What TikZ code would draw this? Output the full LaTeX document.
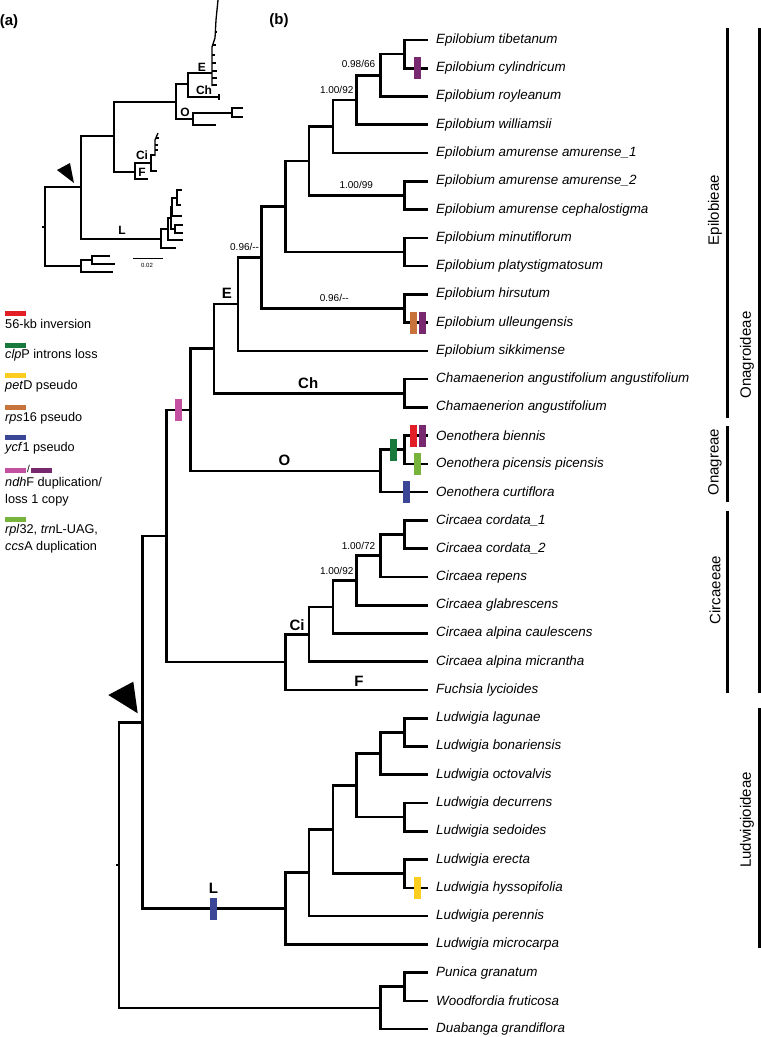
\documentclass[tikz,border=0pt]{standalone}
\usepackage{fontspec}
\setmainfont{Liberation Sans}
\usetikzlibrary{calc}

\definecolor{cred}{RGB}{228,30,38}
\definecolor{cdgreen}{RGB}{25,120,60}
\definecolor{cyellow}{RGB}{250,205,30}
\definecolor{corange}{RGB}{200,115,60}
\definecolor{cblue}{RGB}{60,70,150}
\definecolor{cpink}{RGB}{195,80,160}
\definecolor{cpurple}{RGB}{120,40,110}
\definecolor{clgreen}{RGB}{120,180,60}

\tikzset{
x=1pt, y=-1pt, % one unit is one pixel, y grows downwards
branch/.style={line width=2.6pt}, % the branches of tree (b)
thinbranch/.style={line width=1.3pt}, % the branches of tree (a)
taxon/.style={anchor=west, inner xsep=8pt, inner ysep=0pt, font=\fontsize{13.4}{15}\selectfont\itshape},
support/.style={inner sep=0pt, font=\fontsize{10}{10}\selectfont},
cladename/.style={inner sep=0pt, font=\fontsize{15}{15}\selectfont\bfseries},
smallclade/.style={inner sep=0pt, font=\fontsize{12}{12}\selectfont\bfseries},
evt/.style={rectangle, minimum width=7pt, minimum height=22pt, inner sep=0pt}, % the coloured events
legend/.style={anchor=west, inner sep=0pt, align=left, font=\fontsize{12.7}{17}\selectfont},
legbar/.style={minimum width=21pt, minimum height=5pt, inner sep=0pt, anchor=west},
groupbar/.style={line width=3pt},
grouplabel/.style={rotate=90, inner sep=0pt, font=\fontsize{15}{15}\selectfont},
}

% parent name, depth, first child, second child
\newcommand{\clade}[4]{%
\path let \p1=(#3), \p2=(#4) in coordinate (#1) at ({(119+23.77*#2)*1pt},{0.5*\y1+0.5*\y2});
\draw[branch] (#3) -| (#1) |- (#4);
}

\begin{document}
\begin{tikzpicture}
\useasboundingbox (0,0) rectangle (761,1037);

% panel letters
\node[cladename] (pa) at (9,22) {(a)};
\node[cladename] (pb) at (279,21) {(b)};

% ---- tree (a)
\begin{scope}[thinbranch]
\draw (42,227) -- (45,227);
\draw (81,187) -| (45,266) -- (81,266);
\draw (114,136) -| (81,239) -- (161,239);
\draw (176,102) -| (114,172) -- (135,172);
\draw (188,84) -| (176,119) -- (193,119);
\draw (212,73) -| (188,97) -- (219,97);
\draw (219,94) -- (219,100);
\draw (212,86) -- (212,47) -- (215,38) -- (216,20) -- (218,0);
\draw (212,85) -- (217,85) (212,78) -- (217,78) (212,71) -- (217,71) (212,63) -- (216,63)
 (212,55) -- (215,55) (213,45) -- (216,45) (215,32) -- (217,32);
\draw (232,113) -| (193,125) -- (216,125);
\draw (243,108) -| (232,117) -- (243,117);
\draw (151,163) -| (135,179) -- (148,179);
\draw (155,155) -| (151,171) -- (157,171);
\draw (155,156) -- (155,140) -- (158,133);
\draw (155,150) -- (158,150) (155,145) -- (158,145) (156,138) -- (159,138);
\draw (168,229) -| (161,248) -- (176,248);
\draw (171,218) -| (168,240) -- (183,240);
\draw (172,207) -| (171,229) -- (175,229);
\draw (183,225) -| (175,233) -- (183,233);
\draw (177,198) -| (172,216) -- (182,216);
\draw (182,190) -| (177,205) -- (181,205);
\draw (92,260) -| (81,272) -- (113,272);
\draw (110,256) -| (92,264) -- (115,264);
\end{scope}
\draw[line width=0.6pt] (133,258) -- (163,258);
\node[inner sep=0pt, font=\fontsize{6}{6}\selectfont] (scl) at (147,265) {0.02};
\fill (57,170) -- (70,163) -- (74,183) -- cycle;
\node[smallclade] (aE) at (202,67) {E};
\node[smallclade] (aCh) at (204,90) {Ch};
\node[smallclade] (aO) at (185,112) {O};
\node[smallclade] (aCi) at (142,155) {Ci};
\node[smallclade] (aF) at (142,172) {F};
\node[smallclade] (aL) at (122,230) {L};

% ---- legend
\node[legbar, fill=cred] (k1) at (5,313.5) {};
\node[legend] (t1) at (5,324) {56-kb inversion};
\node[legbar, fill=cdgreen] (k2) at (5,345.5) {};
\node[legend] (t2) at (5,355) {\textit{clp}P introns loss};
\node[legbar, fill=cyellow] (k3) at (5,375.5) {};
\node[legend] (t3) at (5,386) {\textit{pet}D pseudo};
\node[legbar, fill=corange] (k4) at (5,407.5) {};
\node[legend] (t4) at (5,418) {\textit{rps}16 pseudo};
\node[legbar, fill=cblue] (k5) at (5,437.5) {};
\node[legend] (t5) at (5,448) {\textit{ycf}1 pseudo};
\node[legbar, fill=cpink] (k6) at (5,470.5) {};
\node[inner sep=0pt, font=\fontsize{10}{10}\selectfont] (sl) at (28.5,469) {/};
\node[legbar, fill=cpurple] (k7) at (31,470.5) {};
\node[legend] (t6) at (5,491.5) {\textit{ndh}F duplication/\\loss 1 copy};
\node[legbar, fill=clgreen] (k8) at (5,519.5) {};
\node[legend] (t7) at (5,538.5) {\textit{rpl}32, \textit{trn}L-UAG,\\\textit{ccs}A duplication};

% ---- tree (b): tips
\foreach \nm/\txt [count=\i from 0] in {
tib/Epilobium tibetanum, cyl/Epilobium cylindricum, roy/Epilobium royleanum,
wil/Epilobium williamsii, am1/Epilobium amurense amurense\_1,
am2/Epilobium amurense amurense\_2, cep/Epilobium amurense cephalostigma,
min/Epilobium minutiflorum, pla/Epilobium platystigmatosum, hir/Epilobium hirsutum,
ull/Epilobium ulleungensis, sik/Epilobium sikkimense,
cha1/Chamaenerion angustifolium angustifolium, cha2/Chamaenerion angustifolium,
bie/Oenothera biennis, pic/Oenothera picensis picensis, cur/Oenothera curtiflora,
cor1/Circaea cordata\_1, cor2/Circaea cordata\_2, rep/Circaea repens,
gla/Circaea glabrescens, cau/Circaea alpina caulescens, mic/Circaea alpina micrantha,
fuc/Fuchsia lycioides, lag/Ludwigia lagunae, bon/Ludwigia bonariensis,
oct/Ludwigia octovalvis, dec/Ludwigia decurrens, sed/Ludwigia sedoides,
ere/Ludwigia erecta, hys/Ludwigia hyssopifolia, per/Ludwigia perennis,
mcr/Ludwigia microcarpa, pun/Punica granatum, woo/Woodfordia fruticosa,
dua/Duabanga grandiflora}
\node[taxon] (\nm) at (428,{40+28.26*\i}) {\txt};

% ---- tree (b): clades
\clade{e1}{12}{tib}{cyl}
\clade{e2}{11}{e1}{roy}
\clade{e3}{10}{e2}{wil}
\clade{e4}{9}{e3}{am1}
\clade{e5}{12}{am2}{cep}
\clade{e6}{8}{e4}{e5}
\clade{e7}{12}{min}{pla}
\clade{e8}{7}{e6}{e7}
\clade{e9}{12}{hir}{ull}
\clade{e10}{6}{e8}{e9}
\clade{epi}{5}{e10}{sik}
\clade{ch}{12}{cha1}{cha2}
\clade{epb}{4}{epi}{ch}
\clade{o1}{12}{bie}{pic}
\clade{oen}{11}{o1}{cur}
\clade{ono}{3}{epb}{oen}
\clade{c1}{12}{cor1}{cor2}
\clade{c2}{11}{c1}{rep}
\clade{c3}{10}{c2}{gla}
\clade{c4}{9}{c3}{cau}
\clade{cir}{8}{c4}{mic}
\clade{cf}{7}{cir}{fuc}
\clade{onr}{2}{ono}{cf}
\clade{l1}{12}{lag}{bon}
\clade{l2}{11}{l1}{oct}
\clade{l3}{12}{dec}{sed}
\clade{l4}{10}{l2}{l3}
\clade{l5}{12}{ere}{hys}
\clade{l6}{9}{l4}{l5}
\clade{l7}{8}{l6}{per}
\clade{lud}{7}{l7}{mcr}
\clade{onag}{1}{onr}{lud}
\clade{og1}{12}{pun}{woo}
\clade{og}{11}{og1}{dua}
\clade{root}{0}{onag}{og}
\draw[branch] (root) -- ++(-3,0);
\fill (108.3,695) -- (133.3,681.7) -- (137.7,713.3) -- cycle;

% support values
\node[support] (s1) at ($(e2)+(-22,-11)$) {0.98/66};
\node[support] (s2) at ($(e3)+(-20,-10)$) {1.00/92};
\node[support] (s3) at ($(e5)+(-48,-11)$) {1.00/99};
\node[support] (s4) at ($(e10)+(-17,-11)$) {0.96/-{}-};
\node[support] (s5) at ($(e9)+(-70,-11)$) {0.96/-{}-};
\node[support] (s6) at ($(c2)+(-22,-10)$) {1.00/72};
\node[support] (s7) at ($(c3)+(-20,-10)$) {1.00/92};

% clade letters
\node[cladename] (nE) at ($(epi)+(-11,-11)$) {E};
\node[cladename] (nCh) at ($(ch)+(-96,-10.5)$) {Ch};
\node[cladename] (nO) at ($(oen)+(-96,-11)$) {O};
\node[cladename] (nCi) at ($(cir)+(-12,-9)$) {Ci};
\node[cladename] (nF) at ($(fuc.west)+(-69,-9)$) {F};
\node[cladename] (nL) at ($(lud)+(-72,-20)$) {L};

% events
\node[evt, fill=cpurple] (m1) at ($(cyl.west)+(-11,0)$) {};
\node[evt, fill=corange] (m2) at ($(ull.west)+(-15,0)$) {};
\node[evt, fill=cpurple] (m3) at ($(ull.west)+(-6,0)$) {};
\node[evt, fill=cred] (m4) at ($(bie.west)+(-15,0)$) {};
\node[evt, fill=cpurple] (m5) at ($(bie.west)+(-6,0)$) {};
\node[evt, fill=clgreen] (m6) at ($(pic.west)+(-11,0)$) {};
\node[evt, fill=cblue] (m7) at ($(cur.west)+(-22,0)$) {};
\node[evt, fill=cdgreen] (m8) at ($(o1)+(-11,0)$) {};
\node[evt, fill=cpink] (m9) at ($(ono)+(-12,0)$) {};
\node[evt, fill=cblue] (m10) at ($(lud)+(-72,0)$) {};
\node[evt, fill=cyellow] (m11) at ($(hys.west)+(-11,0)$) {};

% groups
\draw[groupbar] (727,28) -- (727,418);
\draw[groupbar] (727,426) -- (727,502);
\draw[groupbar] (727,511) -- (727,693);
\draw[groupbar] (759,28) -- (759,693);
\draw[groupbar] (759,708) -- (759,948);
\node[grouplabel] (g1) at (715,210) {Epilobieae};
\node[grouplabel] (g2) at (715,462) {Onagreae};
\node[grouplabel] (g3) at (715,590) {Circaeeae};
\node[grouplabel] (g4) at (747,355) {Onagroideae};
\node[grouplabel] (g5) at (747,820) {Ludwigioideae};
\end{tikzpicture}
\end{document}
